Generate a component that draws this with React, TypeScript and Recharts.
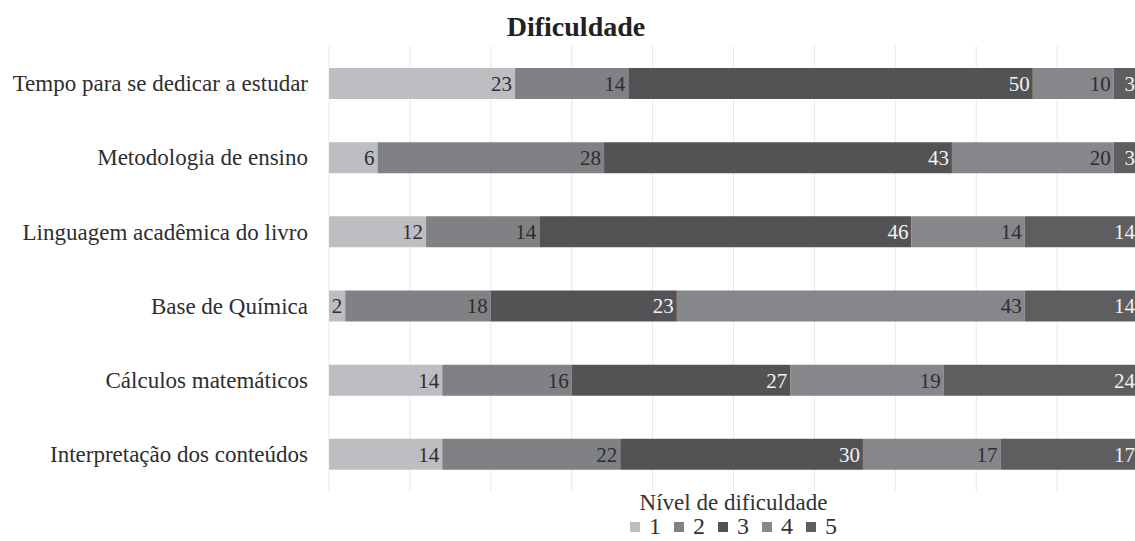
import React from "react";
import {
  BarChart,
  Bar,
  XAxis,
  YAxis,
  CartesianGrid,
  Legend,
  LabelList,
} from "recharts";

const categories = [
  "Tempo para se dedicar a estudar",
  "Metodologia de ensino",
  "Linguagem acadêmica do livro",
  "Base de Química",
  "Cálculos matemáticos",
  "Interpretação dos conteúdos",
];

const nivel1 = [23, 6, 12, 2, 14, 14];
const nivel2 = [14, 28, 14, 18, 16, 22];
const nivel3 = [50, 43, 46, 23, 27, 30];
const nivel4 = [10, 20, 14, 43, 19, 17];
const nivel5 = [3, 3, 14, 14, 24, 17];

const levelKeys = ["1", "2", "3", "4", "5"];
const levelColors = ["#bdbec1", "#808184", "#535356", "#86878a", "#5e5e61"];
const labelColors = ["#2e2e2e", "#2e2e2e", "#f2f2f2", "#2e2e2e", "#f2f2f2"];
const xTicks = [0, 10, 20, 30, 40, 50, 60, 70, 80, 90, 100];

const FONT = "Liberation Serif, Tinos, DejaVu Serif, serif";

const data = categories.map((name, i) => ({
  name,
  "1": nivel1[i],
  "2": nivel2[i],
  "3": nivel3[i],
  "4": nivel4[i],
  "5": nivel5[i],
}));

const LegendBox = () => (
  <div style={{ fontFamily: FONT, color: "#333", textAlign: "center" }}>
    <div style={{ fontSize: 23, lineHeight: "24px" }}>Nível de dificuldade</div>
    <div
      style={{
        display: "flex",
        justifyContent: "center",
        alignItems: "center",
        fontSize: 24,
        lineHeight: "23px",
      }}
    >
      {levelKeys.map((k, i) => (
        <span
          key={k}
          style={{ display: "inline-flex", alignItems: "center", marginRight: i < 4 ? 13 : 0 }}
        >
          <span
            style={{
              display: "inline-block",
              width: 10,
              height: 10,
              background: levelColors[i],
              marginRight: 9,
            }}
          />
          {k}
        </span>
      ))}
    </div>
  </div>
);

export default function App() {
  return (
    <div
      style={{
        position: "absolute",
        left: 0,
        top: 0,
        width: 1135,
        height: 541,
        overflow: "hidden",
        background: "#fff",
      }}
    >
      <div
        style={{
          position: "absolute",
          left: 576 - 150,
          width: 300,
          top: 11,
          textAlign: "center",
          fontFamily: FONT,
          fontWeight: "bold",
          fontSize: 28,
          color: "#222",
          lineHeight: "32px",
        }}
      >
        Dificuldade
      </div>
      <BarChart
        width={1150}
        height={541}
        data={data}
        layout="vertical"
        margin={{ top: 46, right: 12, bottom: 3, left: 0 }}
        barSize={31}
      >
        <CartesianGrid horizontal={false} stroke="#e8e8e8" />
        <XAxis type="number" domain={[0, 100]} ticks={xTicks} hide />
        <YAxis
          type="category"
          dataKey="name"
          width={329}
          axisLine={false}
          tickLine={false}
          tickMargin={15}
          tick={{ fontFamily: FONT, fontSize: 23, fill: "#2e2e2e" }}
        />
        <Legend
          verticalAlign="bottom"
          content={<LegendBox />}
          wrapperStyle={{ left: 329, width: 809, height: 47 }}
        />
        {levelKeys.map((k, i) => (
          <Bar
            key={k}
            dataKey={k}
            stackId="a"
            fill={levelColors[i]}
            isAnimationActive={false}
          >
            <LabelList
              dataKey={k}
              position="insideRight"
              offset={3}
              style={{ fontFamily: FONT, fontSize: 21, fill: labelColors[i] }}
            />
          </Bar>
        ))}
      </BarChart>
    </div>
  );
}
